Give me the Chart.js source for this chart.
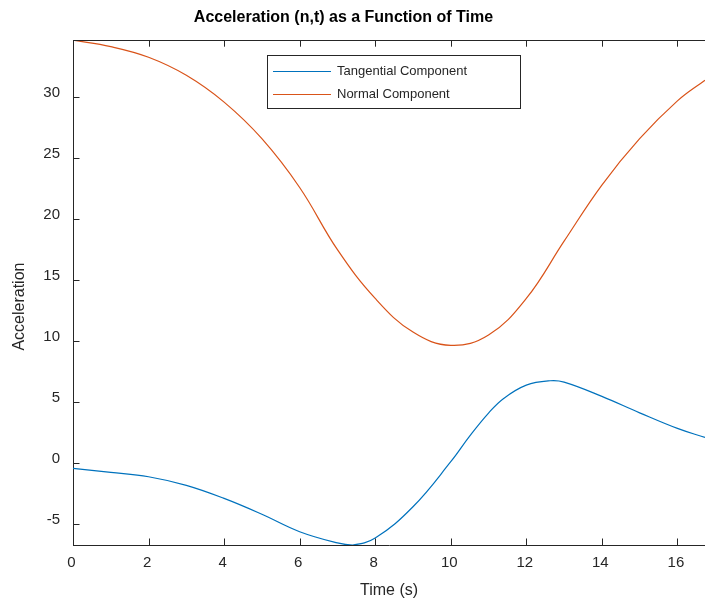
<!DOCTYPE html>
<html>
<head>
<meta charset="utf-8">
<title>Acceleration (n,t)</title>
<script src="https://cdn.jsdelivr.net/npm/chart.js@4/dist/chart.umd.min.js"></script>
<style>
    html, body { margin: 0; padding: 0; background: #ffffff; overflow: hidden; }
    body { width: 705px; height: 601px; position: relative; }
    /* canvas runs a little past the left edge so the title lands where it should */
    #accel-canvas { position: absolute; left: -18px; top: 0; }
</style>
</head>
<body>
<canvas id="accel-canvas" width="723" height="601"></canvas>
<script>
// --- sampled curves (time in s, acceleration) ---
const tangentialTime  = [0, 1, 2, 3, 4, 5, 6, 7, 7.4, 8, 9, 10, 10.5, 11, 11.4, 12, 12.63, 13, 14, 15, 16, 16.73];
const tangentialAccel = [-0.44, -0.76, -1.12, -1.83, -2.9, -4.2, -5.63, -6.55, -6.72, -6.15, -3.58, 0.11, 2.21, 4.1, 5.3, 6.39, 6.75, 6.64, 5.47, 4.12, 2.84, 2.1];

const normalTime  = [0, 1, 2, 3, 4, 5, 6, 7, 8, 9, 10, 11, 12, 13, 14, 15, 16, 16.73];
const normalAccel = [34.68, 34.15, 33.28, 31.8, 29.6, 26.6, 22.6, 17.5, 13.5, 10.74, 9.65, 10.5, 13.5, 18.2, 22.8, 26.6, 29.7, 31.4];

const seriesLabels = ['Tangential Component', 'Normal Component'];
const seriesColors = ['#0072BD', '#D95319'];

const xLimits = [0, 16.73];
const yLimits = [-6.72, 34.68];

const axisColor = '#262626';
const fontFamily = 'Liberation Sans, Arial, Helvetica, sans-serif';

const toPoints = (xs, ys) => xs.map((x, i) => ({ x: x, y: ys[i] }));

// matlab style box: top edge, inward ticks, ylabel, boxed legend
const matlabFrame = {
    id: 'matlabFrame',
    afterDraw(chart) {
        const ctx = chart.ctx;
        const area = chart.chartArea;
        const xs = chart.scales.x;
        const ys = chart.scales.y;
        const tick = 6.5;

        ctx.save();
        ctx.strokeStyle = axisColor;
        ctx.lineWidth = 1;
        ctx.beginPath();
        // top edge
        ctx.moveTo(area.left, Math.round(area.top) + 0.5);
        ctx.lineTo(area.right, Math.round(area.top) + 0.5);
        // x ticks, bottom and top
        xs.ticks.forEach(t => {
            const px = Math.round(xs.getPixelForValue(t.value)) + 0.5;
            ctx.moveTo(px, area.bottom);
            ctx.lineTo(px, area.bottom - tick);
            ctx.moveTo(px, area.top);
            ctx.lineTo(px, area.top + tick);
        });
        // y ticks, left side
        ys.ticks.forEach(t => {
            const py = Math.round(ys.getPixelForValue(t.value)) + 0.5;
            ctx.moveTo(area.left, py);
            ctx.lineTo(area.left + tick, py);
        });
        ctx.stroke();

        // ylabel sits a bit below the middle of the axis
        ctx.save();
        ctx.translate(area.left - 53, (area.top + area.bottom) / 2 + 14);
        ctx.rotate(-Math.PI / 2);
        ctx.font = '16px ' + fontFamily;
        ctx.fillStyle = axisColor;
        ctx.textAlign = 'center';
        ctx.textBaseline = 'middle';
        ctx.fillText('Acceleration', 0, 0);
        ctx.restore();

        // legend box
        const bx = area.left + 194, by = area.top + 15, bw = 253, bh = 53;
        ctx.fillStyle = '#ffffff';
        ctx.fillRect(bx, by, bw, bh);
        ctx.strokeStyle = axisColor;
        ctx.strokeRect(Math.round(bx) + 0.5, Math.round(by) + 0.5, bw, bh);

        ctx.font = '13px ' + fontFamily;
        ctx.textBaseline = 'middle';
        ctx.textAlign = 'left';
        chart.data.datasets.forEach((ds, i) => {
            const rowY = Math.round(by + 15.7 + i * 22.6) + 0.5;
            ctx.strokeStyle = ds.borderColor;
            ctx.lineWidth = 1.2;
            ctx.beginPath();
            ctx.moveTo(bx + 6, rowY);
            ctx.lineTo(bx + 64, rowY);
            ctx.stroke();
            ctx.fillStyle = axisColor;
            ctx.fillText(ds.label, bx + 70, rowY);
        });
        ctx.restore();
    }
};

const ctx = document.getElementById('accel-canvas').getContext('2d');

new Chart(ctx, {
    type: 'line',
    data: {
        datasets: [
            {
                label: seriesLabels[0],
                data: toPoints(tangentialTime, tangentialAccel),
                borderColor: seriesColors[0],
                borderWidth: 1.2,
                pointRadius: 0,
                tension: 0.4,
                fill: false
            },
            {
                label: seriesLabels[1],
                data: toPoints(normalTime, normalAccel),
                borderColor: seriesColors[1],
                borderWidth: 1.2,
                pointRadius: 0,
                tension: 0.4,
                fill: false
            }
        ]
    },
    options: {
        responsive: false,
        animation: false,
        layout: { padding: 0 },
        plugins: {
            legend: { display: false },
            tooltip: { enabled: false },
            title: {
                display: true,
                text: 'Acceleration (n,t) as a Function of Time',
                color: '#000000',
                font: { family: fontFamily, size: 16, weight: 'bold' },
                padding: { top: 8, bottom: 13 }
            }
        },
        scales: {
            x: {
                type: 'linear',
                min: xLimits[0],
                max: xLimits[1],
                grid: { display: false, drawTicks: false },
                border: { display: true, color: axisColor, width: 1 },
                ticks: {
                    stepSize: 2,
                    includeBounds: false,
                    maxRotation: 0,
                    padding: 9,
                    labelOffset: -1.5,
                    color: axisColor,
                    font: { family: fontFamily, size: 15 }
                },
                title: {
                    display: true,
                    text: 'Time (s)',
                    color: axisColor,
                    font: { family: fontFamily, size: 16 },
                    padding: { top: 0, bottom: 1 }
                },
                afterFit(scale) { scale.height = 56; }
            },
            y: {
                type: 'linear',
                min: yLimits[0],
                max: yLimits[1],
                grid: { display: false, drawTicks: false },
                border: { display: true, color: axisColor, width: 1 },
                ticks: {
                    stepSize: 5,
                    includeBounds: false,
                    padding: 13,
                    labelOffset: -4.5,
                    color: axisColor,
                    font: { family: fontFamily, size: 15 }
                },
                afterFit(scale) { scale.width = 91; }
            }
        }
    },
    plugins: [matlabFrame]
});
</script>
</body>
</html>
